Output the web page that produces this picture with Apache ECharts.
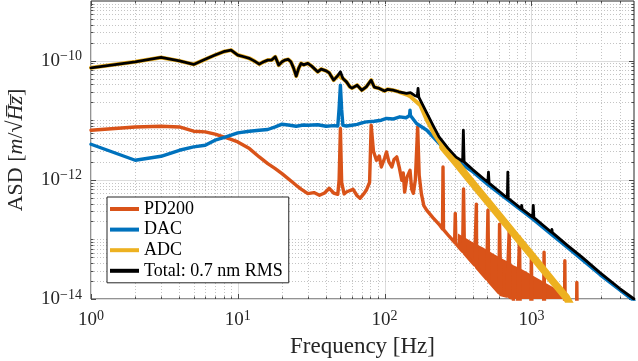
<!DOCTYPE html>
<html><head><meta charset="utf-8">
<script src="https://cdn.jsdelivr.net/npm/echarts@6/dist/echarts.min.js"></script>
<style>html,body{margin:0;padding:0;background:#fff}#c{width:638px;height:361px}</style>
</head><body><div id="c"></div>
<script>
// ---- data (frequency in Hz, ASD in m/sqrt(Hz)) ----
const pdFreq = [1,2,3,4,5,6,7,8,9,10,12,14,16,18,20,25,27,30,33,36,39,42,45,48,49,50,51,53,55,58,61,65,68,72,75,79,81,84,88,92,95,100,103,107,112,116,121,126,131,134,137,142,149,153,157,162,168,172,178,185,194,214,235,248,250,252,275,300,303,306,320,340,345,350,386,410,422,424,466,496,506,512,562,600,607,620,680,700,706,712,750,800,820,830,840,990,1000,1010,1210,1220,1230,1680,1690,1700,2030,2040,2050,5000];
const pdVal = [6.79e-12,7.71e-12,7.93e-12,7.71e-12,6.53e-12,6.36e-12,5.82e-12,5.24e-12,4.75e-12,4.32e-12,3.34e-12,2.42e-12,1.87e-12,1.54e-12,1.27e-12,8.09e-13,7.0e-13,5.86e-13,6.1e-13,5.49e-13,6.0e-13,7.2e-13,6.0e-13,5.7e-13,1.0e-12,7.26e-12,9.0e-13,5.8e-13,6.24e-13,6.6e-13,6.92e-13,5.4e-13,4.89e-13,5.8e-13,6.66e-13,9.0e-13,8.24e-12,3.0e-12,2.13e-12,2.5e-12,1.64e-12,2.3e-12,2.93e-12,2.0e-12,1.64e-12,2.2e-12,2.42e-12,1.6e-12,9.8e-13,1.3e-12,6.24e-13,1.1e-12,1.44e-12,7.0e-13,5.93e-13,1.0e-12,7.71e-12,1.2e-12,5.86e-13,3.7e-13,3.07e-13,2.3e-13,1.79e-13,1.5e-13,1.64e-12,1.46e-13,1.13e-13,8.9e-14,2.73e-13,8.5e-14,7.45e-14,6.3e-14,7.0e-13,5.8e-14,4.41e-14,3.72e-14,3.9e-13,3.38e-14,2.6e-14,2.18e-14,3.1e-13,1.99e-14,1.53e-14,1.28e-14,1.8e-13,1.18e-14,1.12e-14,1.08e-14,1.38e-13,1.07e-14,1.02e-14,5e-15,5e-15,1.1e-13,5e-15,5e-15,5.5e-14,5e-15,5e-15,6.1e-14,5e-15,5e-15,4.4e-14,5e-15,5e-15,1.9e-14,5e-15,5e-15];
// dense PD200 harmonic region (upper and lower envelope of the filled band)
const pdBandFreq = [320,350,386,424,466,512,562,620,680,750,830,920,1020,1140,1270,1420,1600,1690,1780];
const pdBandTop = [1.19e-13,1.05e-13,9.1e-14,8.0e-14,7.1e-14,6.2e-14,5.4e-14,4.7e-14,4.2e-14,3.6e-14,3.2e-14,2.8e-14,2.4e-14,2.05e-14,1.76e-14,1.5e-14,1.25e-14,1.12e-14,1.0e-14];
const pdBandLow = [7.45e-14,5.8e-14,4.41e-14,3.38e-14,2.6e-14,1.99e-14,1.53e-14,1.18e-14,1.12e-14,1.02e-14,1e-14,1e-14,1e-14,1e-14,1e-14,1e-14,1e-14,1e-14,1e-14];

const dacFreq = [1,2,3,4,5,6,7,8,9,10,12,14,16,18,20,22,25,28,30,35,40,45,48,49,50,51,52,55,60,65,70,75,85,95,103,115,127,140,148,149,150,165,194,235,307,400,506,694,1030,1370,1750,2930,5000];
const dacVal = [3.95e-12,2.13e-12,2.48e-12,3.13e-12,3.56e-12,3.8e-12,4.62e-12,5.12e-12,5.6e-12,6.12e-12,6.53e-12,6.79e-12,6.98e-12,7.71e-12,8.57e-12,8.3e-12,7.93e-12,8.3e-12,8.24e-12,8.4e-12,7.93e-12,8.1e-12,8.0e-12,1.6e-11,3.87e-11,1.5e-11,8.2e-12,8.0e-12,8.24e-12,8.5e-12,9.0e-12,9.36e-12,9.6e-12,1.0e-11,1.07e-11,1.05e-11,1.14e-11,1.1e-11,1.2e-11,1.47e-11,1.2e-11,8.8e-12,6.79e-12,4.1e-12,2.13e-12,1.36e-12,8.3e-13,4.55e-13,2.17e-13,1.21e-13,7.4e-14,2.57e-14,9.3e-15];

const adcFreq = [1,2,3,4,5,6,7,8,9,10,11,12,13,14,15,16,17,18,19,20,21,22,23,24,25,26,27,28,30,32,33,35,37,40,42,45,48,50,52,55,58,60,65,70,75,81,85,92,100,105,114,125,141,150,160,175,194,220,250,300,370,450,550,675,820,990,1190,1440,1730,1900,5000];
const adcVal = [7.57e-11,9.55e-11,1.13e-10,9.9e-11,8.63e-11,1.05e-10,1.24e-10,1.41e-10,1.5e-10,1.24e-10,1.16e-10,1.09e-10,9.8e-11,8.73e-11,9.55e-11,1.02e-10,1.02e-10,1.16e-10,8.4e-11,9.55e-11,1.02e-10,1.05e-10,9.55e-11,7.48e-11,5.5e-11,7.48e-11,8.98e-11,8.5e-11,8.98e-11,8.0e-11,7.87e-11,6.48e-11,7.2e-11,6.74e-11,6.2e-11,4.7e-11,5.6e-11,5.3e-11,5.0e-11,4.4e-11,3.63e-11,3.45e-11,3.87e-11,3.19e-11,3.63e-11,4.7e-11,3.6e-11,3.41e-11,3.1e-11,3.3e-11,3.19e-11,3.0e-11,2.7e-11,2.5e-11,2.17e-11,1.79e-11,1.0e-11,5.6e-12,3.5e-12,2.06e-12,1.09e-12,6.05e-13,3.31e-13,1.79e-13,9.93e-14,5.64e-14,3.24e-14,1.82e-14,1.06e-14,7e-15,5e-15];
// noisy high-frequency part of ADC (drawn as a wide band)
const adcBandFreq = [250,300,370,450,550,675,820,990,1190,1440,1730,1900];
const adcBandVal = [3.5e-12,2.06e-12,1.09e-12,6.05e-13,3.31e-13,1.79e-13,9.93e-14,5.64e-14,3.24e-14,1.82e-14,1.06e-14,7e-15];

const totFreq = [1,2,3,4,5,6,7,8,9,10,11,12,13,14,15,16,17,18,19,20,21,22,23,24,25,26,27,28,30,32,33,35,37,40,42,45,48,50,52,55,58,60,65,70,75,81,85,92,100,105,114,125,141,150,160,167,169,171,175,194,215,235,270,307,340,344,348,400,505,510,515,686,691,696,853,859,865,1020,1030,1040,1370,1380,1390,1750,2200,2930,4000,5000];
const totVal = [7.57e-11,9.55e-11,1.13e-10,9.9e-11,8.63e-11,1.05e-10,1.24e-10,1.41e-10,1.5e-10,1.24e-10,1.16e-10,1.09e-10,9.8e-11,8.73e-11,9.55e-11,1.02e-10,1.02e-10,1.16e-10,8.4e-11,9.55e-11,1.02e-10,1.05e-10,9.55e-11,7.48e-11,5.5e-11,7.48e-11,8.98e-11,8.5e-11,8.98e-11,8.0e-11,7.87e-11,6.48e-11,7.2e-11,6.74e-11,6.2e-11,4.7e-11,5.6e-11,6.48e-11,5.0e-11,4.4e-11,3.63e-11,3.45e-11,3.87e-11,3.19e-11,3.63e-11,4.7e-11,3.6e-11,3.41e-11,3.1e-11,3.3e-11,3.19e-11,3.0e-11,2.81e-11,2.9e-11,2.6e-11,2.5e-11,3.41e-11,2.45e-11,2.3e-11,1.31e-11,7.93e-12,5.24e-12,3.4e-12,2.4e-12,2.05e-12,6.8e-12,2.0e-12,1.47e-12,9.1e-13,1.35e-12,8.8e-13,4.95e-13,1.35e-12,4.9e-13,3.28e-13,3.72e-13,3.22e-13,2.37e-13,3.72e-13,2.32e-13,1.32e-13,1.47e-13,1.3e-13,8.0e-14,5.1e-14,2.77e-14,1.5e-14,1.0e-14];

// ---- axis ticks ----
const xMajor = [1,10,100,1000];
const xMinor = [2,3,4,5,6,7,8,9,20,30,40,50,60,70,80,90,200,300,400,500,600,700,800,900,2000,3000,4000];
const yMajor = [1e-14,1e-12,1e-10];
const yMinor = [2e-14,3e-14,4e-14,5e-14,6e-14,7e-14,8e-14,9e-14,1e-13,2e-13,3e-13,4e-13,5e-13,6e-13,7e-13,8e-13,9e-13,2e-12,3e-12,4e-12,5e-12,6e-12,7e-12,8e-12,9e-12,1e-11,2e-11,3e-11,4e-11,5e-11,6e-11,7e-11,8e-11,9e-11,2e-10,3e-10,4e-10,5e-10,6e-10,7e-10,8e-10,9e-10];

const seriesNames = ['PD200','DAC','ADC','Total: 0.7 nm RMS'];
const colors = ['#D95319','#0072BD','#EDB120','#000000'];

const X_MIN = 1, X_MAX = 5000, Y_MIN = 1e-14, Y_MAX = 1e-9;
const serif = 'Liberation Serif';
const ink = '#262626';

function pairs(f, v){ return f.map((x,i)=>[x, v[i]]); }

function gridSeries(values, isX, major){
  return {
    type:'custom', silent:true, z:1, animation:false,
    data: values.map(v => isX ? [v, 1e-12] : [10, v]),
    renderItem: function(params, api){
      const cs = params.coordSys;
      const p = api.coord([api.value(0), api.value(1)]);
      const kids = [];
      const len = major ? 5 : 2.5;
      const gridStyle = major ? {stroke:'#dcdcdc', lineWidth:1} : {stroke:'#c4c4c4', lineWidth:1, lineDash:[1,2]};
      const tickStyle = {stroke:ink, lineWidth:0.8};
      if (isX){
        const x = Math.round(p[0]) + 0.5;
        kids.push({type:'line', shape:{x1:x,y1:cs.y,x2:x,y2:cs.y+cs.height}, style:gridStyle});
        kids.push({type:'line', shape:{x1:x,y1:cs.y+cs.height,x2:x,y2:cs.y+cs.height-len}, style:tickStyle});
        kids.push({type:'line', shape:{x1:x,y1:cs.y,x2:x,y2:cs.y+len}, style:tickStyle});
      } else {
        const y = Math.round(p[1]) + 0.5;
        kids.push({type:'line', shape:{x1:cs.x,y1:y,x2:cs.x+cs.width,y2:y}, style:gridStyle});
        kids.push({type:'line', shape:{x1:cs.x,y1:y,x2:cs.x+len,y2:y}, style:tickStyle});
        kids.push({type:'line', shape:{x1:cs.x+cs.width,y1:y,x2:cs.x+cs.width-len,y2:y}, style:tickStyle});
      }
      return {type:'group', children:kids};
    }
  };
}

function powLabel(v, step){
  const e = Math.round(Math.log10(v));
  if (Math.abs(v/Math.pow(10,e) - 1) > 1e-6) return '';
  if (e % step !== 0) return '';
  const es = e < 0 ? '\u2212' + (-e) : String(e);
  return '{b|10}{s|' + es + '}';
}
const labelRich = {
  b:{fontFamily:serif, fontSize:19, color:ink, lineHeight:22, verticalAlign:'middle'},
  s:{fontFamily:serif, fontSize:14, color:ink, lineHeight:14, verticalAlign:'top'}
};

function lineSeries(i, f, v, width, named){
  return {
    type:'line', name: named ? seriesNames[i] : seriesNames[i] + ' band', data:pairs(f, v), symbol:'none', showSymbol:false,
    clip:true, animation:false, z:2+i, emphasis:{disabled:true},
    lineStyle:{color:colors[i], width:width, join:'round', cap:'round'}, itemStyle:{color:colors[i]}
  };
}

const bandSeries = {
  type:'custom', silent:true, z:2, animation:false, clip:true,
  data:[[pdBandFreq[0], pdBandTop[0]]],
  renderItem: function(params, api){
    const pts = [];
    for (let i = 0; i < pdBandFreq.length; i++) pts.push(api.coord([pdBandFreq[i], pdBandTop[i]]));
    for (let i = pdBandFreq.length - 1; i >= 0; i--) pts.push(api.coord([pdBandFreq[i], pdBandLow[i]]));
    return {type:'polygon', shape:{points:pts}, style:{fill:colors[0], stroke:colors[0], lineWidth:1.5}};
  }
};

const chart = echarts.init(document.getElementById('c'), null, {renderer:'canvas'});
chart.setOption({
  animation:false,
  backgroundColor:'#ffffff',
  grid:{left:91, right:4, top:1, bottom:62, containLabel:false, outerBoundsMode:'none',
        show:true, borderColor:ink, borderWidth:1, backgroundColor:'transparent'},
  xAxis:{
    type:'log', logBase:10, min:X_MIN, max:X_MAX,
    axisLine:{show:false}, axisTick:{show:false}, splitLine:{show:false}, minorTick:{show:false},
    axisLabel:{formatter:(v)=>powLabel(v,1), rich:labelRich, margin:10, showMinLabel:true, showMaxLabel:true},
    name:'Frequency [Hz]', nameLocation:'middle', nameGap:36,
    nameTextStyle:{fontFamily:serif, fontSize:23, color:ink}
  },
  yAxis:{
    type:'log', logBase:10, min:Y_MIN, max:Y_MAX,
    axisLine:{show:false}, axisTick:{show:false}, splitLine:{show:false}, minorTick:{show:false},
    axisLabel:{formatter:(v)=>powLabel(v,2), rich:labelRich, margin:9, showMinLabel:true, showMaxLabel:true},
    name:'{r|ASD [}{i|m}{r|/\u221A}{i|H\u0305z\u0305}{r|]}', nameLocation:'middle', nameGap:64, nameRotate:90,
    nameTextStyle:{rich:{
      r:{fontFamily:serif, fontSize:22, color:ink},
      i:{fontFamily:serif, fontSize:22, color:ink, fontStyle:'italic'}
    }}
  },
  legend:{
    data:seriesNames, orient:'vertical', left:107, top:197,
    itemWidth:29, itemHeight:4, icon:'rect', itemGap:2.6,
    padding:[3,6,3,3], borderColor:ink, borderWidth:1, backgroundColor:'#ffffff',
    selectedMode:false,
    textStyle:{fontFamily:serif, fontSize:18, color:'#000', lineHeight:18}
  },
  series:[
    gridSeries(xMinor, true, false),
    gridSeries(xMajor, true, true),
    gridSeries(yMinor, false, false),
    gridSeries(yMajor, false, true),
    bandSeries,
    lineSeries(0, pdFreq, pdVal, 3.4, true),
    lineSeries(1, dacFreq, dacVal, 3.4, true),
    lineSeries(2, adcFreq, adcVal, 4, true),
    lineSeries(2, adcBandFreq, adcBandVal, 7.5, false),
    lineSeries(3, totFreq, totVal, 2.8, true)
  ]
});
</script>
</body></html>
